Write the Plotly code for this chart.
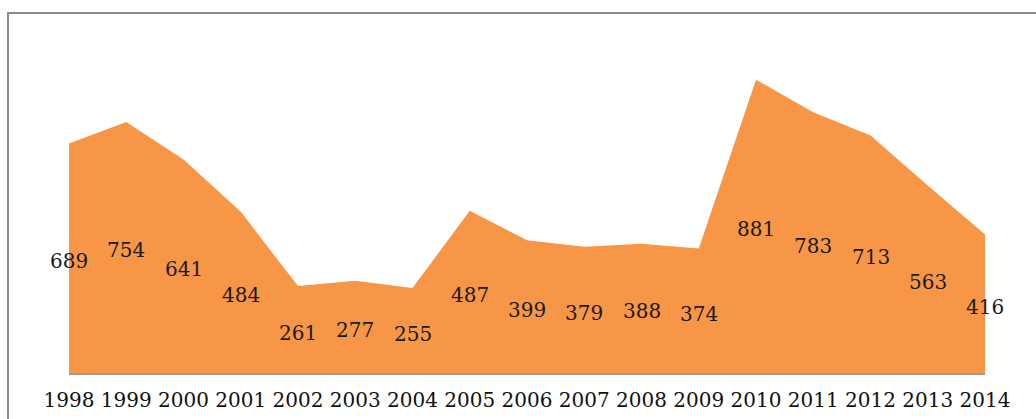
import plotly.graph_objects as go

years = list(range(1998, 2015))
values = [689, 754, 641, 484, 261, 277, 255, 487, 399, 379, 388, 374, 881, 783, 713, 563, 416]
tick_labels = [str(y) for y in years]

fig = go.Figure()
fig.add_trace(go.Scatter(
    x=years, y=values, mode="lines", fill="tozeroy",
    fillcolor="#F79646", line=dict(color="#F79646", width=0),
    hoverinfo="skip", showlegend=False,
))

annotations = [
    dict(x=yr, y=v / 2, xref="x", yref="y", text=str(v), showarrow=False,
         yshift=-3, font=dict(family="DejaVu Serif", size=20, color="#1A1A1A"))
    for yr, v in zip(years, values)
]

fig.update_layout(
    width=1036, height=419,
    margin=dict(l=69, r=51, t=40, b=46),
    paper_bgcolor="white", plot_bgcolor="white",
    annotations=annotations,
    xaxis=dict(
        range=[1998, 2014], tickvals=years, ticktext=tick_labels,
        showgrid=False, zeroline=False, showline=True, linecolor="#9A9A9A", linewidth=2,
        tickfont=dict(family="DejaVu Serif", size=20, color="#111111"),
        ticks="", ticklabelstandoff=8, automargin=False, layer="above traces",
    ),
    yaxis=dict(range=[0, 1000], visible=False, showgrid=False, zeroline=False, automargin=False),
    shapes=[dict(
        type="rect", xref="paper", yref="paper",
        x0=-0.0666, x1=1.2, y0=-0.5, y1=1.081,
        line=dict(color="#8A8A8A", width=2), fillcolor="rgba(0,0,0,0)", layer="below",
    )],
)

fig.write_html("out.html")
